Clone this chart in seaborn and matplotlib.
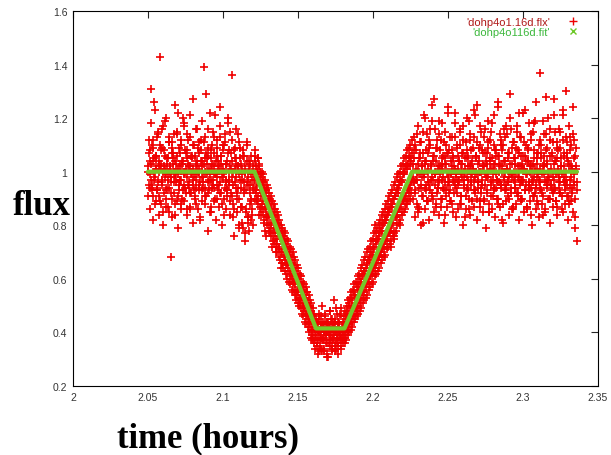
import numpy as np
import seaborn as sns
import matplotlib.pyplot as plt
from matplotlib.lines import Line2D

flux_pre = [1.02, 0.95, 1.08, 0.99, 1.31, 0.93, 1.04, 1.12, 0.97, 0.88, 1.01, 1.06, 0.94, 1.15, 1.00, 0.91,
            1.43, 1.03, 0.96, 1.09, 0.85, 1.02, 0.98, 1.19, 0.93, 1.05, 0.99, 0.87, 1.11, 1.01, 0.68, 0.96,
            1.07, 1.03, 0.92, 1.14, 0.98, 1.00, 0.89, 1.06, 1.22, 0.95, 1.02, 0.97, 1.10, 0.90, 1.04, 0.99,
            1.17, 0.94, 1.01, 0.86, 1.08, 1.03, 0.96, 1.13, 0.92, 1.00, 1.05, 0.97, 1.27, 0.93, 1.06, 0.99,
            0.88, 1.02, 1.09, 0.95, 1.01, 0.82, 1.12, 0.98, 1.04, 0.94, 1.39, 1.00, 0.91, 1.07, 1.03, 0.96,
            1.16, 0.93, 0.99, 1.05, 0.87, 1.10, 0.97, 1.02, 0.94, 1.21, 0.99, 0.90, 1.06, 1.01, 0.95, 1.13,
            0.92, 1.03, 0.98, 1.08, 0.84, 1.00, 1.11, 0.96, 1.04, 0.93, 1.18, 0.97, 1.02, 0.89, 1.07, 1.36,
            0.95, 1.00, 0.86, 1.09, 0.98, 1.03, 0.92, 1.14, 0.99, 0.80, 1.05, 0.94, 1.01, 0.87, 1.08, 0.96,
            0.77, 1.02, 0.93, 1.10, 0.98, 0.83, 1.04, 0.95, 0.90, 1.06, 0.86, 0.99, 0.97]
flux_pre_b = [1.00, 1.07, 0.94, 1.03, 0.97, 1.10, 0.91, 1.05, 1.26, 0.98, 1.02, 0.93, 1.13, 0.96, 1.04, 0.89,
              1.01, 1.08, 0.95, 1.00, 1.17, 0.92, 1.06, 0.99, 0.87, 1.03, 0.97, 1.11, 0.94, 1.02, 0.98, 1.09,
              0.90, 1.05, 1.00, 0.84, 1.04, 0.96, 1.14, 0.99, 1.01, 0.93, 1.07, 0.97, 0.88, 1.03, 1.20, 0.95,
              1.00, 1.08, 0.92, 1.05, 0.98, 1.12, 0.94, 1.02, 0.86, 1.06, 0.99, 1.01, 0.95, 1.10, 0.91, 1.03,
              0.97, 1.16, 1.00, 0.93, 1.07, 0.96, 1.04, 0.89, 1.02, 0.98, 1.11, 0.94, 1.05, 1.29, 0.99, 0.92,
              1.06, 1.01, 0.85, 1.08, 0.97, 1.03, 0.95, 1.13, 1.00, 0.90, 1.04, 0.98, 1.09, 0.93, 1.02, 1.24,
              0.96, 1.06, 0.88, 1.01, 0.99, 1.10, 0.94, 1.03, 0.97, 0.91, 1.07, 1.00, 0.95, 1.15, 0.92, 1.04,
              0.98, 0.83, 1.08, 1.01, 0.96, 1.05, 0.90, 1.02, 0.94, 1.11, 0.97, 0.87, 1.03, 0.99, 0.79, 1.06,
              0.93, 1.00, 0.85, 1.04, 0.96, 0.81, 1.01, 0.92, 0.88, 0.99, 0.84, 1.02, 0.94]
flux_pre_c = [0.91, 1.12, 0.86, 1.04, 1.18, 0.95, 0.82, 1.09, 1.00, 1.23, 0.89, 1.06, 0.93, 1.14, 0.84, 1.02,
              1.10, 0.88, 1.16, 0.97, 0.80, 1.08, 1.01, 0.90, 1.20, 0.94, 1.05, 0.85, 1.13, 0.99, 0.92, 1.11,
              0.83, 1.07, 0.96, 1.25, 0.88, 1.03, 1.15, 0.91, 0.79, 1.09, 0.97, 1.12, 0.86, 1.04, 0.93, 1.18,
              0.89, 1.00, 1.07, 0.84, 1.14, 0.95, 1.02, 0.87, 1.21, 0.92, 1.06, 0.81, 1.10, 0.98, 0.90, 1.16,
              0.94, 1.04, 0.86, 1.11, 1.00, 0.83, 1.08, 0.93, 1.19, 0.96, 1.03, 0.88, 1.13, 0.91, 1.05, 0.78,
              1.09, 0.97, 1.22, 0.85, 1.01, 0.94, 1.15, 0.89, 1.07, 0.99, 0.82, 1.12, 0.95, 1.04, 0.87, 1.17,
              0.92, 1.06, 0.80, 1.10, 0.98, 0.90, 1.14, 0.86, 1.03, 0.93, 1.20, 0.96, 1.08, 0.84, 1.01, 0.91,
              1.12, 0.88, 0.76, 1.05, 0.94, 1.16, 0.85, 1.02, 0.90, 0.79, 1.09, 0.87, 0.97, 0.81, 1.06, 0.92,
              0.74, 1.00, 0.86, 1.11, 0.83, 0.95, 0.78, 1.03, 0.89, 0.82, 0.97, 0.80, 0.93]
flux_ingress = [0.97, 1.04, 0.92, 1.01, 0.95, 0.88, 1.03, 0.93, 0.97, 0.86, 0.95, 0.99, 0.89, 0.93, 0.78,
                0.91, 0.86, 0.95, 0.84, 0.88, 0.83, 0.90, 0.81, 0.86, 0.72, 0.84, 0.79, 0.83, 0.77, 0.81,
                0.75, 0.80, 0.76, 0.79, 0.72, 0.77, 0.64, 0.75, 0.70, 0.74, 0.69, 0.73, 0.68, 0.72, 0.66,
                0.70, 0.65, 0.68, 0.63, 0.67, 0.62, 0.66, 0.60, 0.64, 0.59, 0.63, 0.58, 0.61, 0.56, 0.60,
                0.55, 0.59, 0.53, 0.57, 0.52, 0.56, 0.51, 0.55, 0.49, 0.53, 0.48, 0.52, 0.47, 0.50, 0.45,
                0.49, 0.44, 0.47, 0.42, 0.46, 0.41, 0.44, 0.40, 0.43]
flux_ingress_b = [1.06, 0.93, 1.02, 0.90, 1.05, 0.99, 0.84, 1.00, 0.91, 0.98, 0.88, 0.96, 0.82, 0.94, 0.87,
                  0.76, 0.92, 0.83, 0.90, 0.80, 0.89, 0.86, 0.79, 0.88, 0.85, 0.77, 0.86, 0.74, 0.84, 0.70,
                  0.82, 0.73, 0.81, 0.71, 0.79, 0.76, 0.70, 0.78, 0.66, 0.76, 0.74, 0.67, 0.75, 0.65, 0.72,
                  0.70, 0.63, 0.71, 0.61, 0.69, 0.66, 0.60, 0.68, 0.58, 0.65, 0.62, 0.56, 0.64, 0.54, 0.62,
                  0.60, 0.53, 0.61, 0.51, 0.58, 0.55, 0.49, 0.57, 0.48, 0.54, 0.53, 0.46, 0.55, 0.45, 0.51,
                  0.43, 0.50, 0.41, 0.48, 0.39, 0.46, 0.38, 0.45, 0.37]
flux_ingress_c = [0.90, 1.08, 0.93, 0.89, 1.05, 0.91, 1.02, 0.87, 0.99, 0.84, 1.00, 0.85, 0.96, 0.81, 0.97,
                  0.83, 0.93, 0.80, 0.94, 0.78, 0.92, 0.77, 0.91, 0.76, 0.89, 0.74, 0.88, 0.73, 0.86, 0.72,
                  0.85, 0.70, 0.84, 0.68, 0.82, 0.67, 0.80, 0.66, 0.79, 0.64, 0.78, 0.63, 0.77, 0.62, 0.75,
                  0.60, 0.74, 0.59, 0.72, 0.58, 0.71, 0.56, 0.70, 0.55, 0.68, 0.54, 0.67, 0.52, 0.65, 0.51,
                  0.64, 0.50, 0.62, 0.49, 0.61, 0.47, 0.59, 0.46, 0.58, 0.44, 0.57, 0.43, 0.55, 0.42, 0.54,
                  0.40, 0.52, 0.38, 0.51, 0.37, 0.49, 0.36, 0.47, 0.34]
flux_bottom = [0.39, 0.43, 0.37, 0.41, 0.45, 0.35, 0.40, 0.42, 0.33, 0.44, 0.38, 0.41, 0.47, 0.36, 0.40,
               0.31, 0.43, 0.39, 0.42, 0.37, 0.45, 0.34, 0.41, 0.38, 0.44, 0.40, 0.36, 0.49, 0.39, 0.42,
               0.35, 0.43, 0.40, 0.37, 0.46, 0.38, 0.41, 0.39]
flux_bottom_b = [0.42, 0.36, 0.44, 0.40, 0.33, 0.41, 0.38, 0.46, 0.37, 0.42, 0.34, 0.40, 0.43, 0.39, 0.32,
                 0.44, 0.41, 0.36, 0.48, 0.40, 0.37, 0.43, 0.35, 0.42, 0.39, 0.45, 0.33, 0.41, 0.38, 0.44,
                 0.36, 0.40, 0.47, 0.39, 0.34, 0.42, 0.38, 0.44]
flux_bottom_c = [0.45, 0.35, 0.40, 0.32, 0.47, 0.38, 0.43, 0.34, 0.50, 0.37, 0.41, 0.33, 0.46, 0.39, 0.36,
                 0.44, 0.31, 0.42, 0.48, 0.35, 0.40, 0.45, 0.33, 0.38, 0.52, 0.36, 0.43, 0.34, 0.47, 0.39,
                 0.32, 0.44, 0.37, 0.49, 0.35, 0.41, 0.36, 0.46]
flux_egress = [0.44, 0.40, 0.46, 0.42, 0.47, 0.43, 0.50, 0.44, 0.49, 0.45, 0.52, 0.47, 0.54, 0.49, 0.53,
               0.50, 0.57, 0.51, 0.56, 0.53, 0.60, 0.54, 0.58, 0.55, 0.62, 0.56, 0.63, 0.58, 0.64, 0.59,
               0.66, 0.60, 0.67, 0.61, 0.68, 0.63, 0.69, 0.64, 0.71, 0.65, 0.80, 0.67, 0.74, 0.68, 0.75,
               0.69, 0.77, 0.70, 0.78, 0.72, 0.80, 0.73, 0.81, 0.74, 0.82, 0.76, 0.84, 0.77, 0.85, 0.78,
               0.87, 0.72, 0.88, 0.81, 0.90, 0.75, 0.91, 0.83, 0.92, 0.85, 0.94, 0.86, 0.95, 0.80, 0.96,
               0.88, 0.97, 0.89, 0.99, 0.90, 1.01, 0.91, 1.02, 0.93, 1.03, 0.94, 1.06, 0.95, 1.04, 0.97]
flux_egress_b = [0.38, 0.45, 0.40, 0.48, 0.41, 0.51, 0.43, 0.47, 0.53, 0.44, 0.50, 0.46, 0.55, 0.47, 0.54,
                 0.49, 0.48, 0.58, 0.50, 0.57, 0.51, 0.59, 0.53, 0.61, 0.54, 0.63, 0.55, 0.62, 0.57, 0.65,
                 0.58, 0.67, 0.59, 0.66, 0.61, 0.70, 0.62, 0.69, 0.63, 0.72, 0.64, 0.73, 0.66, 0.75, 0.67,
                 0.76, 0.68, 0.79, 0.70, 0.78, 0.71, 0.81, 0.72, 0.83, 0.74, 0.82, 0.75, 0.86, 0.77, 0.85,
                 0.78, 0.88, 0.79, 0.87, 0.81, 0.90, 0.76, 0.91, 0.83, 0.93, 0.84, 0.92, 0.86, 0.97, 0.87,
                 0.96, 0.85, 0.99, 0.90, 1.00, 0.91, 1.03, 0.88, 1.01, 0.94, 1.05, 0.92, 1.02, 0.96, 1.07]
flux_egress_c = [0.36, 0.48, 0.37, 0.50, 0.39, 0.52, 0.40, 0.53, 0.41, 0.55, 0.42, 0.56, 0.44, 0.58, 0.45,
                 0.59, 0.46, 0.61, 0.47, 0.62, 0.48, 0.64, 0.49, 0.65, 0.51, 0.67, 0.52, 0.68, 0.53, 0.70,
                 0.54, 0.71, 0.56, 0.72, 0.57, 0.74, 0.58, 0.75, 0.59, 0.77, 0.61, 0.78, 0.62, 0.79, 0.63,
                 0.81, 0.64, 0.82, 0.66, 0.84, 0.67, 0.85, 0.68, 0.86, 0.69, 0.88, 0.71, 0.89, 0.72, 0.91,
                 0.73, 0.92, 0.74, 0.93, 0.76, 0.95, 0.77, 0.96, 0.78, 0.98, 0.80, 0.99, 0.81, 1.00, 0.82,
                 1.02, 0.84, 1.03, 0.85, 1.05, 0.86, 1.06, 0.88, 1.08, 0.89, 1.09, 0.90, 1.10, 0.92, 1.12]
flux_post = [1.03, 0.96, 1.08, 0.92, 1.01, 1.14, 0.97, 0.85, 1.05, 0.99, 1.11, 0.94, 1.02, 0.81, 1.07,
             0.98, 1.20, 0.93, 1.04, 0.89, 1.00, 1.09, 0.95, 1.16, 1.02, 0.91, 1.06, 0.97, 1.27, 0.99,
             0.87, 1.04, 1.12, 0.94, 1.01, 0.96, 1.08, 0.90, 1.03, 1.18, 0.98, 0.93, 1.05, 0.84, 1.10,
             1.00, 0.95, 1.07, 0.92, 1.13, 0.99, 1.02, 0.88, 1.06, 0.96, 1.22, 1.01, 0.94, 1.09, 0.97,
             0.86, 1.04, 1.15, 0.99, 0.91, 1.03, 1.07, 0.95, 1.00, 0.83, 1.11, 0.98, 1.05, 0.93, 1.19,
             1.02, 0.96, 1.08, 0.89, 1.01, 1.13, 0.97, 0.92, 1.06, 1.25, 0.99, 0.94, 1.04, 0.87, 1.10,
             1.00, 0.95, 1.07, 1.02, 0.90, 1.16, 0.98, 1.03, 0.93, 1.09, 0.85, 1.01, 1.12, 0.96, 1.05,
             0.99, 0.91, 1.21, 1.03, 0.94, 1.08, 0.97, 0.88, 1.06, 1.00, 1.14, 0.95, 1.02, 0.82, 1.10,
             0.98, 1.04, 0.93, 1.17, 1.01, 0.96, 1.07, 0.90, 1.29, 0.99, 1.03, 0.86, 1.11, 0.97, 1.05,
             0.94, 1.00, 1.15, 0.92, 1.08, 0.98, 1.02, 0.89, 1.13, 0.96, 1.06, 1.01, 0.93, 1.23, 0.99,
             0.87, 1.04, 1.09, 0.95, 1.00, 0.84, 1.12, 0.97, 1.03, 0.91, 1.18, 1.01, 0.94, 1.07, 0.98,
             0.88, 1.10, 1.37, 0.96, 1.05, 0.92, 1.02, 1.14, 0.99, 0.86, 1.08, 0.95, 1.03, 1.20, 0.97,
             0.90, 1.06, 1.01, 0.93, 1.11, 0.98, 1.27, 0.94, 1.04, 0.89, 1.09, 1.00, 0.96, 1.16, 0.92,
             1.05, 0.99, 0.85, 1.12, 1.02, 0.95, 1.30, 0.97, 1.07, 0.91, 1.03, 0.88, 1.13, 0.98, 1.01,
             0.94, 1.24, 0.96, 1.06, 0.90, 1.02, 0.74]
flux_post_b = [0.98, 1.05, 0.93, 1.10, 0.97, 0.88, 1.03, 1.00, 0.86, 1.07, 0.95, 1.02, 0.91, 1.15, 0.99,
               1.04, 0.94, 1.08, 0.89, 1.01, 0.96, 1.12, 0.93, 1.03, 0.98, 1.19, 0.90, 1.06, 1.00, 0.95,
               1.09, 0.92, 1.02, 0.97, 1.14, 0.99, 0.87, 1.05, 1.01, 0.94, 1.11, 0.96, 1.03, 0.91, 1.07,
               0.98, 1.24, 1.00, 0.93, 1.04, 0.89, 1.08, 0.97, 1.02, 0.95, 1.13, 0.99, 0.92, 1.06, 1.01,
               0.96, 1.10, 0.88, 1.03, 0.98, 1.17, 0.94, 1.05, 1.00, 0.91, 1.08, 0.97, 1.02, 0.86, 1.12,
               0.99, 0.95, 1.04, 1.01, 0.93, 1.21, 0.98, 1.06, 0.90, 1.03, 0.96, 1.09, 1.00, 0.94, 1.15,
               0.97, 1.02, 0.89, 1.07, 0.99, 1.04, 0.92, 1.11, 0.98, 0.85, 1.05, 1.01, 0.95, 1.18, 0.97,
               1.03, 0.93, 1.08, 0.99, 0.90, 1.06, 1.26, 0.96, 1.02, 0.94, 1.10, 1.00, 0.88, 1.04, 0.97,
               1.13, 0.95, 1.01, 0.91, 1.07, 0.98, 1.03, 0.94, 1.16, 0.99, 0.87, 1.05, 1.00, 0.96, 1.09,
               0.92, 1.02, 0.98, 1.22, 0.95, 1.06, 0.90, 1.03, 0.97, 1.11, 1.01, 0.93, 1.04, 0.99, 0.86,
               1.08, 0.96, 1.02, 0.94, 1.14, 1.00, 0.91, 1.05, 0.98, 1.19, 0.95, 1.03, 0.89, 1.07, 0.97,
               1.01, 0.93, 1.10, 0.99, 0.84, 1.06, 1.02, 0.96, 1.28, 0.94, 1.04, 0.98, 0.90, 1.12, 1.00,
               0.95, 1.07, 0.92, 1.03, 0.97, 1.15, 0.99, 0.87, 1.05, 1.01, 0.94, 1.09, 0.96, 1.02, 0.91,
               1.21, 0.98, 1.06, 0.93, 1.00, 1.11, 0.95, 1.04, 0.89, 1.08, 0.97, 1.02, 0.92, 1.14, 0.99,
               1.05, 0.83, 1.01, 0.96]
flux_post_c = [0.90, 1.13, 0.96, 0.83, 1.08, 1.00, 0.87, 1.17, 0.94, 1.05, 0.80, 1.11, 0.98, 0.91, 1.21,
               0.86, 1.03, 0.95, 1.14, 0.89, 1.07, 0.82, 1.10, 0.97, 1.25, 0.92, 1.04, 0.85, 1.16, 0.99,
               0.88, 1.09, 0.94, 1.19, 0.84, 1.02, 1.12, 0.90, 0.97, 1.06, 0.81, 1.15, 0.93, 1.03, 0.87,
               1.22, 0.96, 1.08, 0.89, 1.00, 1.13, 0.85, 1.05, 0.92, 1.18, 0.98, 0.83, 1.10, 0.95, 1.04,
               0.88, 1.16, 0.91, 1.07, 0.80, 1.12, 0.97, 1.01, 0.86, 1.20, 0.94, 1.06, 0.90, 1.14, 0.84,
               1.03, 0.99, 1.09, 0.87, 1.23, 0.93, 1.05, 0.82, 1.11, 0.96, 1.00, 0.89, 1.17, 0.92, 1.08,
               0.85, 1.02, 1.13, 0.95, 0.79, 1.07, 0.98, 1.19, 0.88, 1.04, 0.91, 1.15, 0.86, 1.01, 0.94,
               1.10, 0.83, 1.06, 0.97, 1.24, 0.90, 1.03, 0.87, 1.12, 0.95, 1.08, 0.81, 1.16, 0.93, 1.00,
               0.89, 1.14, 0.96, 1.05, 0.84, 1.20, 0.92, 1.09, 0.98, 0.86, 1.11, 0.94, 1.03, 0.88, 1.17,
               0.91, 1.07, 0.82, 1.13, 0.97, 1.01, 0.90, 1.22, 0.85, 1.06, 0.95, 1.10, 0.87, 1.04, 0.93,
               1.18, 0.89, 1.02, 0.80, 1.15, 0.96, 1.08, 0.92, 1.26, 0.86, 1.05, 0.99, 0.83, 1.12, 0.94,
               1.07, 0.88, 1.19, 0.91, 1.03, 0.85, 1.14, 0.97, 1.09, 0.90, 1.00, 0.81, 1.16, 0.95, 1.06,
               0.87, 1.21, 0.93, 1.04, 0.89, 1.11, 0.84, 1.08, 0.98, 1.15, 0.92, 1.02, 0.86, 1.23, 0.96,
               1.07, 0.88, 1.13, 0.91, 1.05, 0.82, 1.17, 0.94, 1.10, 0.89, 1.01, 0.85, 1.12, 0.95, 0.79,
               1.09, 0.93]

# time span (hours) covered by each segment
seg_start = [2.0500, 2.1210, 2.1620, 2.1810, 2.2265]
seg_end = [2.1205, 2.1615, 2.1805, 2.2260, 2.3360]

# model fit knots
fit_time = [2.050, 2.121, 2.162, 2.181, 2.226, 2.336]
fit_flux = [1.0, 1.0, 0.415, 0.415, 1.0, 1.0]

set_a = [flux_pre, flux_ingress, flux_bottom, flux_egress, flux_post]
set_b = [flux_pre_b, flux_ingress_b, flux_bottom_b, flux_egress_b, flux_post_b]
set_c = [flux_pre_c, flux_ingress_c, flux_bottom_c, flux_egress_c, flux_post_c]
times = []
for offset, fset in [(0.0, set_a), (0.00025, set_b), (0.000125, set_c)]:
    times += [np.linspace(a + offset, b - offset, len(f)) for a, b, f in zip(seg_start, seg_end, fset)]
time = np.concatenate(times)
flux = np.concatenate(set_a + set_b + set_c)

sns.set_style('white')
plt.rcParams['font.family'] = ['Liberation Sans', 'DejaVu Sans']

fig = plt.figure(figsize=(6.11, 4.56), dpi=100)
ax = fig.add_axes([0.1195, 0.1513, 0.8592, 0.8224])

sns.scatterplot(x=time, y=flux, marker='+', s=38, color='#f00000', linewidth=1.2, ax=ax, zorder=2)
sns.lineplot(x=fit_time, y=fit_flux, color='#74c82a', linewidth=3.0, ax=ax, zorder=3)

ax.set_xlim(2.0, 2.35)
ax.set_ylim(0.2, 1.6)
ax.set_xticks([2, 2.05, 2.1, 2.15, 2.2, 2.25, 2.3, 2.35])
ax.set_xticklabels(['2', '2.05', '2.1', '2.15', '2.2', '2.25', '2.3', '2.35'])
ax.set_yticks([0.2, 0.4, 0.6, 0.8, 1.0, 1.2, 1.4, 1.6])
ax.set_yticklabels(['0.2', '0.4', '0.6', '0.8', '1', '1.2', '1.4', '1.6'])
ax.tick_params(direction='in', length=5, width=0.8, top=True, right=True,
               labelsize=7.5, labelcolor='#333333', pad=4)
for sp in ax.spines.values():
    sp.set_color('black')
    sp.set_linewidth(0.8)

handles = [Line2D([], [], marker='+', ls='', color='#ee0000', ms=6),
           Line2D([], [], marker='x', ls='', color='#6cc828', ms=5)]
ax.legend(handles, ["'dohp4o1.16d.flx'", "'dohp4o116d.fit'"], loc='upper right',
          bbox_to_anchor=(579 / 611, (456 - 18) / 456), bbox_transform=fig.transFigure,
          borderaxespad=0, borderpad=0, frameon=False, markerfirst=False, fontsize=8,
          labelcolor=['#b01818', '#3cb83c'], handletextpad=1.6, labelspacing=0.0,
          handlelength=1.0)

fig.text(13 / 611, (456 - 215) / 456, 'flux', family='Liberation Serif', weight='bold',
         fontsize=25, va='baseline', ha='left', color='black')
fig.text(208 / 611, (456 - 447) / 456, 'time (hours)', family='Liberation Serif', weight='bold',
         fontsize=25, va='baseline', ha='center', color='black')

fig.savefig('out.png', dpi=100)
